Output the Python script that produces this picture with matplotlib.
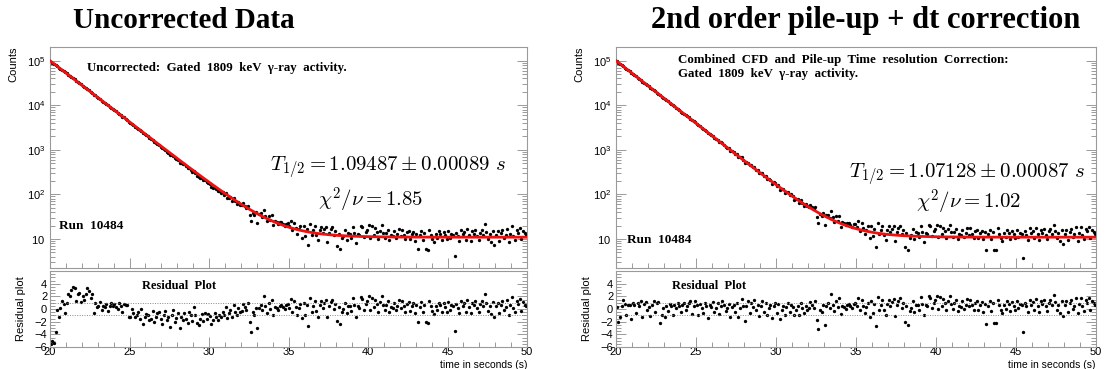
import numpy as np
import matplotlib
matplotlib.use("Agg")
import matplotlib.pyplot as plt
from matplotlib.ticker import MultipleLocator, LogLocator, FuncFormatter, NullFormatter, FixedLocator

# ---------------- data ----------------
t_min, t_max, bin_width = 20.0, 50.0, 0.1

titles = ["Uncorrected Data", "2nd order pile-up + dt correction"]
fit_amplitude = [1.0e5, 1.0e5]        # counts at t = 20 s (decay part)
fit_halflife = [1.09487, 1.07128]     # s
fit_background = [11.0, 11.0]         # counts
halflife_text = [r"$T_{1/2} = 1.09487 \pm 0.00089\ s$", r"$T_{1/2} = 1.07128 \pm 0.00087\ s$"]
chi2_text = [r"$\chi^{\mathbf{2}}/\nu = 1.85$", r"$\chi^{\mathbf{2}}/\nu = 1.02$"]
info_text = ["Uncorrected:  Gated  1809  keV  γ-ray  activity.",
             "Combined  CFD  and  Pile-up  Time  resolution  Correction:\nGated  1809  keV  γ-ray  activity."]
run_label = "Run  10484"

residual_left = [
    -5.5, -5.0, -5.3, -3.6, -0.2, -1.3, 0.1, 1.3, 0.8, -0.7,
    1.0, 2.3, 2.1, 3.0, 3.4, 3.3, 1.3, 2.3, 2.5, 1.1,
    2.0, 1.5, 2.3, 3.3, 2.8, 1.7, 2.4, -0.7, 1.0, 0.3,
    0.4, 1.1, -0.2, 0.4, 0.3, 0.8, -0.3, 0.5, 0.9, 0.4,
    0.8, 0.3, 0.0, 0.9, 0.5, -0.4, 0.8, 0.6, 0.7, -1.3,
    -1.3, 0.0, -0.6, -1.3, -1.0, -0.5, -1.5, 0.0, -2.3, -1.3,
    -0.8, -1.0, -1.7, -1.5, -0.3, -2.0, -1.2, -0.6, -0.5, -1.5,
    -2.4, -1.0, -0.3, -1.7, -1.3, -2.8, -1.0, -0.2, -2.0, -1.4,
    -0.6, -3.0, -1.3, -1.8, -0.6, -1.5, -2.2, -0.4, -1.0, -1.9,
    0.3, -1.0, -2.2, -2.5, -1.6, -0.8, -1.9, -0.6, -1.5, -0.8,
    -1.1, -2.4, -1.8, -0.6, -1.3, -1.8, -0.9, -1.2, -0.4, -0.9,
    0.3, -1.4, -0.7, -0.1, -1.3, 0.6, -0.4, -1.0, 0.1, -0.5,
    -0.3, 0.8, 0.3, -0.2, 0.9, -2.1, -3.6, -0.5, -0.9, 0.2,
    -3.0, 0.2, 0.6, -0.1, 2.1, 0.4, -0.6, 1.0, 0.0, 1.5,
    -1.0, 0.3, 0.1, -0.2, 0.4, 0.6, 0.3, 0.0, 0.6, 0.8,
    0.2, 1.6, -0.4, 1.3, 0.3, -0.9, 0.1, 0.8, -1.4, 1.0,
    -0.9, 0.6, -2.7, 1.7, -0.4, 0.5, 1.3, -0.3, -1.2, 0.6,
    1.3, 0.2, 0.9, 1.4, -1.3, 0.4, 1.1, 1.5, 0.0, 0.8,
    -1.9, 0.3, -2.4, -0.5, 0.0, 1.0, -0.7, 0.5, 0.4, -0.3,
    1.7, 0.6, -1.2, 0.5, 0.2, 1.9, 1.6, -0.1, 0.8, 1.2,
    2.1, -0.2, 1.8, 0.3, 1.5, 0.8, -0.4, 1.1, 2.1, 0.6,
    -0.2, 0.7, 1.2, -0.5, 0.3, 0.1, 1.0, -0.2, 0.5, 1.4,
    0.2, 1.3, 0.4, -0.4, 0.8, 1.1, -0.3, 0.5, 0.9, -0.6,
    0.6, -2.1, 0.3, 1.1, -0.5, 0.7, -2.1, -2.2, 1.3, 0.4,
    -0.3, -0.8, 0.5, -0.2, 1.0, 0.6, -0.5, 0.9, 0.3, -0.4,
    1.1, -0.1, 0.6, 0.4, -3.4, 0.8, 0.2, -0.6, 1.3, 0.5,
    0.9, -0.4, 1.4, 0.3, -0.7, 1.0, 0.6, 1.2, 0.2, -0.5,
    0.8, 1.3, 0.4, 2.3, 0.9, -0.3, 0.5, -0.8, 1.1, -1.3,
    0.4, 1.0, -0.6, 0.7, 1.2, -0.2, 0.3, 1.5, -0.9, 0.6,
    1.9, 0.2, -0.5, 1.3, 0.8, 1.6, -0.3, 1.1, 0.7, 0.4,
]

residual_right = [
    0.3, -2.0, -1.2, 0.5, 1.4, 0.8, -0.9, 0.7, 0.6, -1.6,
    0.9, 0.6, -0.7, 1.0, 0.4, 1.3, -1.3, 0.8, 1.1, -0.2,
    0.3, -1.1, 0.6, 1.2, -0.5, 0.9, 1.1, -2.2, -0.9, 0.2,
    -1.2, 0.5, -0.3, 0.8, 0.4, -1.0, 0.6, 0.1, 0.9, 0.5,
    -0.4, 0.7, 1.0, -0.2, 0.5, 0.9, 1.2, -0.8, 0.4, 1.3,
    0.6, -0.9, 0.8, 0.2, -0.6, 0.9, 0.4, -1.4, 0.6, 0.3,
    1.1, -0.5, 0.2, 0.9, -0.8, 0.5, 1.3, 0.7, -0.3, 0.1,
    0.8, -1.3, 0.3, 0.7, -0.5, 1.0, -1.2, 0.2, 1.6, 0.5,
    -1.9, 0.4, 1.2, -0.6, 0.9, 0.3, 1.4, -0.2, 0.7, -1.1,
    0.5, 1.3, -0.4, 0.9, -1.0, 0.2, 0.6, -1.4, 0.4, 1.0,
    -0.6, 0.8, -1.5, -0.2, 0.5, -0.9, 0.3, 0.9, -0.4, 0.6,
    0.3, -1.0, -0.2, 0.4, -0.9, 1.0, 0.1, -0.6, 0.5, -0.1,
    0.1, 1.1, 0.6, 0.2, 1.2, -1.7, -3.2, -0.1, -0.5, 0.6,
    -2.5, 0.5, 0.9, 0.2, 2.3, 0.7, -0.3, 1.3, 0.3, 1.7,
    -0.8, 0.5, 0.3, 0.0, 0.6, 0.8, 0.5, 0.2, 0.8, 1.0,
    0.4, 1.8, -0.2, 1.5, 0.5, -0.7, 0.3, 1.0, -1.2, 1.2,
    -0.7, 0.8, -2.7, 1.9, -0.2, 0.7, 1.5, -0.1, -1.0, 0.8,
    1.5, 0.4, 1.1, 1.6, -1.1, 0.6, 1.3, 1.7, 0.2, 1.0,
    -2.1, 0.5, -2.6, -0.3, 0.2, 1.2, -0.5, 0.7, 0.6, -0.1,
    1.9, 0.8, -1.0, 0.7, 0.4, 2.0, 1.8, 0.1, 1.0, 1.4,
    2.0, 0.0, 1.9, 0.5, 1.6, 1.0, -0.2, 1.3, 2.1, 0.8,
    0.0, 0.9, 1.4, -0.3, 0.5, 0.3, 1.2, 0.0, 0.7, 1.6,
    0.4, 1.5, 0.6, -0.2, 1.0, 1.3, -0.1, 0.7, 1.1, -0.4,
    0.8, -2.3, 0.5, 1.3, -0.3, 0.9, -2.2, -2.2, 1.5, 0.6,
    -0.1, -0.6, 0.7, 0.0, 1.2, 0.8, -0.3, 1.1, 0.5, -0.2,
    1.3, 0.1, 0.8, 0.6, -3.7, 1.0, 0.4, -0.4, 1.5, 0.7,
    1.1, -0.2, 1.6, 0.5, -0.5, 1.2, 0.8, 1.4, 0.4, -0.3,
    1.0, 1.5, 0.6, 2.2, 1.1, -0.1, 0.7, -0.6, 1.3, -1.1,
    0.6, 1.2, -0.4, 0.9, 1.4, 0.0, 0.5, 1.7, -0.7, 0.8,
    1.8, 0.4, -0.3, 1.5, 1.0, 1.7, -0.1, 1.3, 0.9, 0.6,
]
residuals = [residual_left, residual_right]

# ---------------- style ----------------
W, H = 1107, 369
plt.rcParams["font.family"] = ["Liberation Sans", "DejaVu Sans"]
plt.rcParams["mathtext.fontset"] = "custom"
plt.rcParams["mathtext.rm"] = "Liberation Sans"
plt.rcParams["mathtext.it"] = "Liberation Sans:italic"
plt.rcParams["mathtext.bf"] = "Liberation Sans:bold"

fig = plt.figure(figsize=(W / 100, H / 100), dpi=100)
frame_col = "#9a9a9a"
serif = ["Liberation Serif", "DejaVu Serif"]


def px(x0, y0, x1, y1):
    return [x0 / W, 1 - y1 / H, (x1 - x0) / W, (y1 - y0) / H]


def log_fmt(v, pos):
    e = int(round(np.log10(v)))
    if e == 1:
        return r"$\mathdefault{10}$"
    return r"$\mathdefault{10^{%d}}$" % e


def style(ax):
    for s in ax.spines.values():
        s.set_color(frame_col)
        s.set_linewidth(0.8)
    ax.tick_params(which="both", direction="in", color=frame_col, labelsize=8,
                   right=True, top=False, width=0.7)
    ax.tick_params(which="major", length=7)
    ax.tick_params(which="minor", length=3.5)


panel_x = [(50, 527), (616, 1096)]
title_x = [184, 866]
title_size = [21, 22]
info_xy = [(87, 68), (678, 67)]
run_xy = [(59, 226), (627, 240)]
half_xy = [(388, 168), (967, 175)]
chi_xy = [(371, 200), (969, 202)]
resid_lab_x = [142, 672]

centers = t_min + bin_width * (np.arange(len(residual_left)) + 0.5)
t_fine = np.linspace(t_min, t_max, 600)

for i in range(2):
    x0, x1 = panel_x[i]
    A, T, B = fit_amplitude[i], fit_halflife[i], fit_background[i]
    res = np.array(residuals[i])
    fit_c = A * 2.0 ** (-(centers - t_min) / T) + B
    # residual = (data - fit) / sqrt(data)  ->  data from the read residual
    counts = ((res + np.sqrt(res ** 2 + 4 * fit_c)) / 2) ** 2
    fit_line = A * 2.0 ** (-(t_fine - t_min) / T) + B

    ax = fig.add_axes(px(x0, 47, x1, 268))
    ax.set_yscale("log")
    ax.plot(centers, counts, "o", ms=2.4, color="black", mec="none", zorder=2)
    ax.plot(t_fine, fit_line, color="#ee1111", lw=2.0, zorder=3)
    ax.set_xlim(t_min, t_max)
    ax.set_ylim(2.24, 2.03e5)
    ax.yaxis.set_major_locator(FixedLocator([10, 1e2, 1e3, 1e4, 1e5]))
    ax.yaxis.set_major_formatter(FuncFormatter(log_fmt))
    ax.yaxis.set_minor_locator(LogLocator(base=10, subs=np.arange(2, 10), numticks=20))
    ax.yaxis.set_minor_formatter(NullFormatter())
    ax.xaxis.set_major_locator(MultipleLocator(5))
    ax.xaxis.set_minor_locator(MultipleLocator(1))
    ax.xaxis.set_major_formatter(NullFormatter())
    style(ax)
    ax.set_ylabel("Counts", fontsize=8, loc="top", labelpad=6)

    fig.text(title_x[i] / W, 1 - 28 / H, titles[i], fontsize=title_size[i], fontweight="bold",
             family=serif, ha="center", va="baseline")
    fig.text(info_xy[i][0] / W, 1 - info_xy[i][1] / H, info_text[i], fontsize=9.3,
             fontweight="bold", family=serif, ha="left", va="center", linespacing=1.15)
    fig.text(run_xy[i][0] / W, 1 - run_xy[i][1] / H, run_label, fontsize=9.5,
             fontweight="bold", family=serif, ha="left", va="center")
    fig.text(half_xy[i][0] / W, 1 - half_xy[i][1] / H, halflife_text[i], fontsize=15,
             math_fontfamily="cm", ha="center", va="center")
    fig.text(chi_xy[i][0] / W, 1 - chi_xy[i][1] / H, chi2_text[i], fontsize=15,
             math_fontfamily="cm", ha="center", va="center")

    rx = fig.add_axes(px(x0, 271, x1, 347))
    rx.plot(centers, res, "o", ms=2.4, color="black", mec="none")
    for lvl in (-1, 1):
        rx.axhline(lvl, color="#888888", lw=0.7, ls=(0, (1, 1.5)))
    rx.set_xlim(t_min, t_max)
    rx.set_ylim(-6, 6)
    rx.yaxis.set_major_locator(FixedLocator([-6, -4, -2, 0, 2, 4]))
    rx.yaxis.set_minor_locator(MultipleLocator(0.5))
    rx.xaxis.set_major_locator(MultipleLocator(5))
    rx.xaxis.set_minor_locator(MultipleLocator(1))
    style(rx)
    rx.tick_params(axis="x", pad=0, labelsize=8)
    rx.tick_params(axis="y", labelsize=8, pad=2)
    rx.set_ylabel("Residual plot", fontsize=8, labelpad=6)
    fig.text(x1 / W, 1 - 364.5 / H, "time in seconds (s)", fontsize=7.5,
             ha="right", va="center")
    fig.text(resid_lab_x[i] / W, 1 - 286 / H, "Residual  Plot",
             fontsize=9, fontweight="bold", family=serif, ha="left", va="center")

fig.savefig("out.png", dpi=100)
